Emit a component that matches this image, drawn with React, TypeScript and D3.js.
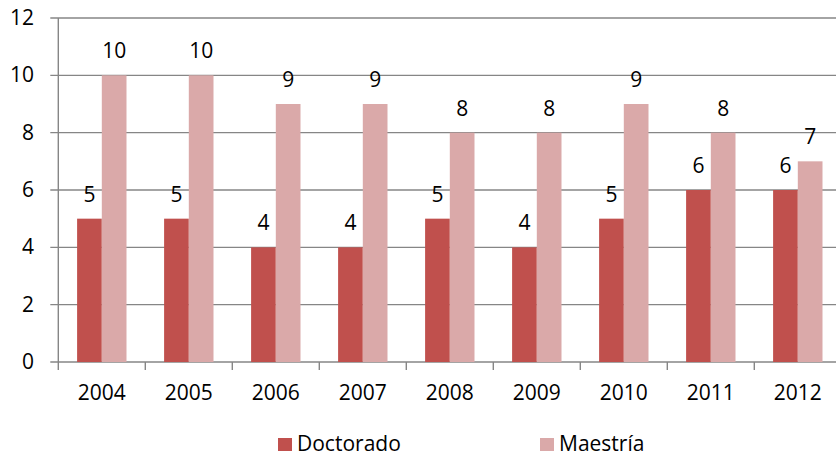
import React from "react";
import * as d3 from "d3";

const years = ["2004", "2005", "2006", "2007", "2008", "2009", "2010", "2011", "2012"];
const doctorado = [5, 5, 4, 4, 5, 4, 5, 6, 6];
const maestria = [10, 10, 9, 9, 8, 8, 9, 8, 7];
const seriesNames = ["Doctorado", "Maestría"];
const yTicks = [0, 2, 4, 6, 8, 10, 12];

const W = 836, H = 457;
const left = 58.3, top = 18, bottom = 362;
const band = 87;
const colors = ["#C0504D", "#DAA9A9"];
const axisColor = "#868686";
const font = "'Open Sans', sans-serif";
const fs = 21;

export default function App() {
  const x = d3.scaleBand<string>().domain(years).range([left, left + band * years.length]).paddingInner(0).paddingOuter(0);
  const y = d3.scaleLinear().domain([0, 12]).range([bottom, top]);
  const inner = d3.scaleBand<string>().domain(seriesNames).range([18.8, band - 18.8]);
  const series = [doctorado, maestria];

  return (
    <svg width={W} height={H} style={{ position: "absolute", left: 0, top: 0 }}>
      <rect width={W} height={H} fill="#fff" />
      {yTicks.map((t) => (
        <g key={t}>
          <line x1={left - 8} x2={W + 10} y1={y(t)} y2={y(t)} stroke={axisColor} strokeWidth={1.4} />
          <text x={34} y={y(t) + 7} textAnchor="end" fontFamily={font} fontSize={fs} fill="#000">{t}</text>
        </g>
      ))}
      <line x1={left} x2={left} y1={top} y2={bottom} stroke={axisColor} strokeWidth={1.4} />
      {years.map((yr, i) => (
        <g key={yr}>
          <line x1={x(yr)!} x2={x(yr)!} y1={bottom} y2={bottom + 8} stroke={axisColor} strokeWidth={1.4} />
          <text x={x(yr)! + band / 2} y={400} textAnchor="middle" fontFamily={font} fontSize={fs} fill="#000">{yr}</text>
          {series.map((s, j) => {
            const bx = x(yr)! + inner(seriesNames[j])!;
            const bw = inner.bandwidth();
            return (
              <g key={j}>
                <rect x={bx} y={y(s[i])} width={bw} height={bottom - y(s[i])} fill={colors[j]} />
                <text x={bx + bw / 2} y={y(s[i]) - 17} textAnchor="middle" fontFamily={font} fontSize={fs} fill="#000">{s[i]}</text>
              </g>
            );
          })}
        </g>
      ))}
      {seriesNames.map((n, j) => {
        const lx = j === 0 ? 278 : 540;
        return (
          <g key={n}>
            <rect x={lx} y={438} width={14} height={13} fill={colors[j]} />
            <text x={lx + 19} y={451} fontFamily={font} fontSize={fs} fill="#000">{n}</text>
          </g>
        );
      })}
    </svg>
  );
}
